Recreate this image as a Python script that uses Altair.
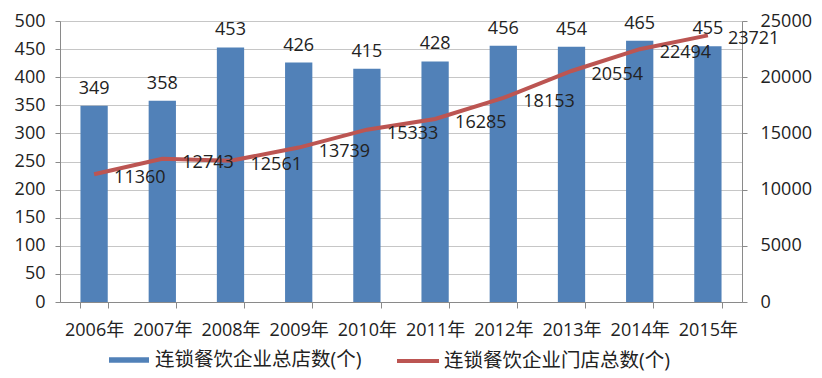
import altair as alt
import pandas as pd

years = ["2006年", "2007年", "2008年", "2009年", "2010年", "2011年", "2012年", "2013年", "2014年", "2015年"]
stores_total = [349, 358, 453, 426, 415, 428, 456, 454, 465, 455]
outlets_total = [11360, 12743, 12561, 13739, 15333, 16285, 18153, 20554, 22494, 23721]
left_ticks = [0, 50, 100, 150, 200, 250, 300, 350, 400, 450, 500]
right_ticks = [0, 5000, 10000, 15000, 20000, 25000]
bar_name = "连锁餐饮企业总店数(个)"
line_name = "连锁餐饮企业门店总数(个)"

df = pd.DataFrame({"year": years, "stores": stores_total, "outlets": outlets_total})
df["s1"] = bar_name
df["s2"] = line_name

FONT = '"Open Sans", "Noto Sans CJK SC", sans-serif'
BLUE = "#5181B8"
RED = "#BC5552"

x = alt.X("year:N", sort=years, title=None,
          scale=alt.Scale(paddingInner=0.6, paddingOuter=0.3),
          axis=alt.Axis(labelAngle=0, tickBand="extent", domainColor="#8a8a8a",
                        tickColor="#8a8a8a", tickSize=6, labelPadding=13,
                        labelFontSize=18, labelColor="#222", grid=False))

yl = alt.Y("stores:Q", title=None, scale=alt.Scale(domain=[0, 500], nice=False),
           axis=alt.Axis(values=left_ticks, tickCount=11, labelOverlap=False, orient="left", grid=True,
                         gridColor="#C6C6C6", domainColor="#8a8a8a", tickColor="#8a8a8a",
                         tickSize=5, labelPadding=10, labelFontSize=18, labelColor="#222"))

bars = alt.Chart(df).mark_bar(color=BLUE).encode(
    x=x, y=yl,
    color=alt.Color("s1:N", scale=alt.Scale(domain=[bar_name], range=[BLUE]),
                    legend=alt.Legend(title=None, orient="none", legendX=48, legendY=318,
                                      symbolType="M-1,-0.14H1V0.14H-1Z", symbolSize=1600,
                                      symbolOpacity=1, labelFontSize=19.5, labelOffset=5,
                                      labelLimit=400, labelColor="#222", labelFont=FONT)))
bar_text = alt.Chart(df).mark_text(baseline="bottom", dy=-8, fontSize=18, color="#222", font=FONT).encode(
    x=alt.X("year:N", sort=years), y=alt.Y("stores:Q", scale=alt.Scale(domain=[0, 500], nice=False)),
    text="stores:Q")

yr = alt.Y("outlets:Q", title=None, scale=alt.Scale(domain=[0, 25000], nice=False),
           axis=alt.Axis(values=right_ticks, format="d", labelOverlap=False, orient="right", grid=False,
                         domainColor="#8a8a8a", tickColor="#8a8a8a", tickSize=5,
                         labelPadding=13, labelFontSize=18, labelColor="#222"))

line = alt.Chart(df).mark_line(strokeWidth=4).encode(
    x=alt.X("year:N", sort=years), y=yr,
    stroke=alt.Stroke("s2:N", scale=alt.Scale(domain=[line_name], range=[RED]),
                      legend=alt.Legend(title=None, orient="none", legendX=335, legendY=317,
                                        symbolType="M-1,0H1", symbolSize=1764, symbolStrokeWidth=4,
                                        labelFontSize=19.5, labelOffset=3, labelLimit=400,
                                        labelColor="#222", labelFont=FONT)))
line_text = alt.Chart(df).mark_text(align="left", baseline="middle", dx=20, dy=4,
                                    fontSize=18, color="#222", font=FONT).encode(
    x=alt.X("year:N", sort=years), y=alt.Y("outlets:Q", scale=alt.Scale(domain=[0, 25000], nice=False)),
    text="outlets:Q")

left = alt.layer(bars, bar_text)
right = alt.layer(line, line_text)

chart = alt.layer(left, right).resolve_scale(y="independent", color="independent", stroke="independent").properties(
    width=682, height=281,
    autosize=alt.AutoSizeParams(type="none"),
    padding={"left": 52, "top": 13, "right": 72, "bottom": 70},
).configure_view(strokeWidth=0).configure(font=FONT)

chart.save("out.html", embed_options={"renderer": "svg", "actions": False})
